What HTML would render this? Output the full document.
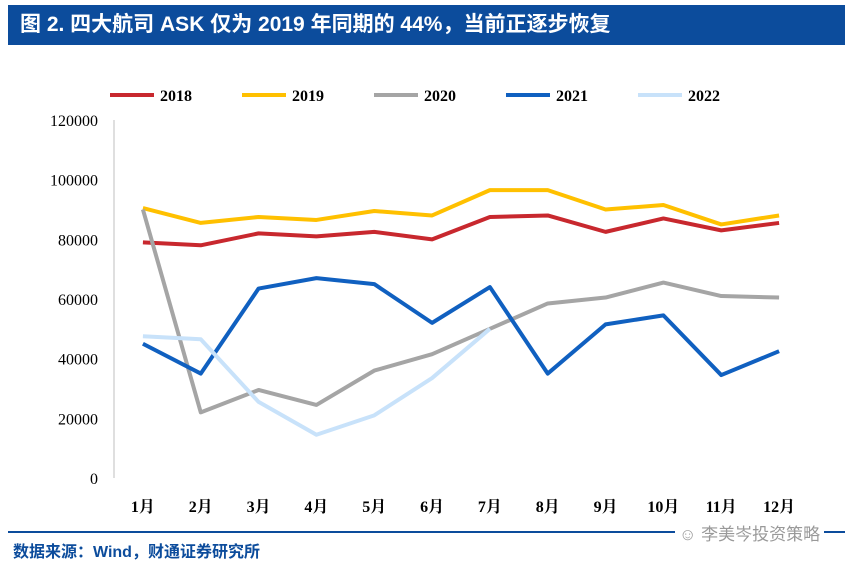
<!DOCTYPE html>
<html><head><meta charset="utf-8"><style>
body{margin:0;background:#fff;width:853px;height:569px;overflow:hidden;position:relative;font-family:"Liberation Sans","Noto Sans CJK SC",sans-serif}
#title{position:absolute;left:8px;top:5px;width:837px;height:40px;background:#0c4c9c;color:#fff;font-weight:bold;font-size:21px;line-height:40px;padding-left:12px;box-sizing:border-box;font-family:"Liberation Sans","Noto Sans CJK SC",sans-serif}
#rule{position:absolute;left:8px;top:531px;width:837px;height:2px;background:#0c4c9c}
#src{position:absolute;left:13px;top:538px;color:#0c4c9c;font-weight:bold;font-size:16px}
#wm{position:absolute;left:675px;top:520px;color:#999;font-size:17px;background:#fff;padding:0 4px}
svg{position:absolute;left:0;top:0}
</style></head><body>
<div id="title">图 2. 四大航司 ASK 仅为 2019 年同期的 44%，当前正逐步恢复</div>
<svg id="chart" width="853" height="569"></svg>
<div id="rule"></div>
<div id="wm">☺ 李美岑投资策略</div>
<div id="src">数据来源：Wind，财通证券研究所</div>
<script>
const categories=["1月","2月","3月","4月","5月","6月","7月","8月","9月","10月","11月","12月"];
const yTicks=[0,20000,40000,60000,80000,100000,120000];
const seriesNames=["2018","2019","2020","2021","2022"];
const colors=["#c8282e","#ffc000","#a5a5a5","#1060c0","#c8e2fa"];
const s2018=[79000,78000,82000,81000,82500,80000,87500,88000,82500,87000,83000,85500];
const s2019=[90500,85500,87500,86500,89500,88000,96500,96500,90000,91500,85000,88000];
const s2020=[90000,22000,29500,24500,36000,41500,50000,58500,60500,65500,61000,60500];
const s2021=[45000,35000,63500,67000,65000,52000,64000,35000,51500,54500,34500,42500];
const s2022=[47500,46500,25500,14500,21000,33500,50000];
const allSeries=[s2018,s2019,s2020,s2021,s2022];
const NS="http://www.w3.org/2000/svg";
const svg=document.getElementById('chart');
const x0=114,x1=808,y0=478,y1=120;
const xs=i=>x0+(x1-x0)/categories.length*(i+0.5);
const ys=v=>y0-(v/120000)*(y0-y1);
function mk(t,a){const e=document.createElementNS(NS,t);for(const k in a)e.setAttribute(k,a[k]);svg.appendChild(e);return e;}
let ax=mk('line',{x1:x0,y1:y1,x2:x0,y2:y0,stroke:'#bfbfbf'});


yTicks.forEach(v=>{
 const t=mk('text',{x:x0-16,y:ys(v)+6,'text-anchor':'end','font-size':16,'font-family':'Liberation Serif, serif',fill:'#000'});
 t.textContent=v;
 
 
});
categories.forEach((c,i)=>{
 const t=mk('text',{x:xs(i),y:512,'text-anchor':'middle','font-size':16,'font-weight':'bold','font-family':'Liberation Serif, Noto Serif CJK SC, serif',fill:'#000'});
 t.textContent=c;
 
 
});
allSeries.forEach((s,k)=>{
 const p=mk('polyline',{points:s.map((v,i)=>xs(i)+','+ys(v)).join(' '),fill:'none',stroke:colors[k],'stroke-width':4,'stroke-linejoin':'round'});
 
 
});
const lx=[110,242,374,506,638];
seriesNames.forEach((n,k)=>{
 const l=mk('line',{x1:lx[k],y1:95,x2:lx[k]+44,y2:95,stroke:colors[k],'stroke-width':4});
 
 
 const t=mk('text',{x:lx[k]+50,y:101,'font-size':16,'font-weight':'bold','font-family':'Liberation Serif, serif'});
 t.textContent=n;
 
 
});
</script>
</body></html>
